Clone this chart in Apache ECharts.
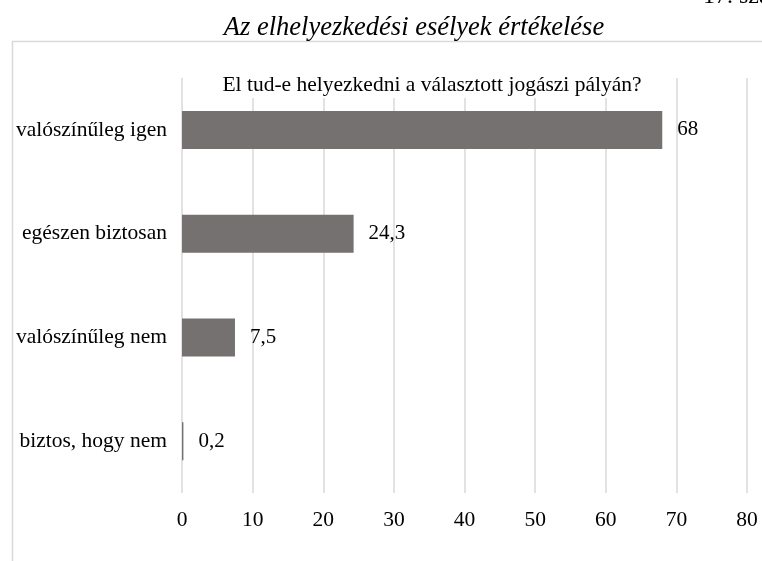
<!DOCTYPE html>
<html>
<head>
<meta charset="utf-8">
<script src="https://cdn.jsdelivr.net/npm/echarts@6/dist/echarts.min.js"></script>
<style>
html, body { margin: 0; padding: 0; background: #fff; }
#main { width: 762px; height: 561px; }
</style>
</head>
<body>
<div id="main"></div>
<script>
var categories = ['biztos, hogy nem', 'valószínűleg nem', 'egészen biztosan', 'valószínűleg igen'];
var values = [0.2, 7.5, 24.3, 68];
var axisMax = 80;
var axisStep = 10;

var serif = '"Liberation Serif", "Times New Roman", serif';

var chartDom = document.getElementById('main');
var myChart = echarts.init(chartDom);
var option;

option = {
    animation: false,
    title: [{
        text: 'Az elhelyezkedési esélyek értékelése',
        left: 414,
        top: 15,
        textAlign: 'center',
        textStyle: { fontFamily: serif, fontStyle: 'italic', fontWeight: 'normal', fontSize: 26.5, color: '#000' },
        padding: 0
    }, {
        text: 'El tud-e helyezkedni a választott jogászi pályán?',
        left: 428,
        top: 72,
        textAlign: 'center',
        backgroundColor: '#fff',
        padding: [2, 4, 2, 4],
        textStyle: { fontFamily: serif, fontWeight: 'normal', fontSize: 21.5, color: '#000' }
    }],
    graphic: {
        elements: [{
            type: 'rect',
            left: 10,
            top: 39,
            shape: { width: 800, height: 600 },
            style: { fill: 'none', stroke: '#d9d9d9', lineWidth: 1.5 },
            z: -1
        }, {
            type: 'text',
            x: 703,
            y: -15,
            style: { text: '17. számú ábra', font: '24px ' + serif, fill: '#000' }
        }]
    },
    grid: {
        left: 182,
        right: 15,
        top: 78,
        bottom: 68
    },
    xAxis: {
        type: 'value',
        min: 0,
        max: axisMax,
        interval: axisStep,
        axisLine: { show: false },
        axisTick: { show: false },
        splitLine: { lineStyle: { color: '#d9d9d9', width: 1.5 } },
        axisLabel: { fontFamily: serif, fontSize: 21.5, color: '#000', margin: 16 }
    },
    yAxis: {
        type: 'category',
        data: categories,
        axisLine: { show: false },
        axisTick: { show: false },
        axisLabel: { fontFamily: serif, fontSize: 21.5, color: '#000', margin: 15 }
    },
    series: [{
        type: 'bar',
        data: values,
        barWidth: 38,
        itemStyle: { color: '#767171' },
        label: {
            show: true,
            position: 'right',
            distance: 15,
            fontFamily: serif,
            fontSize: 21,
            color: '#000',
            formatter: function (p) { return String(p.value).replace('.', ','); }
        }
    }]
};

option && myChart.setOption(option);
</script>
</body>
</html>
